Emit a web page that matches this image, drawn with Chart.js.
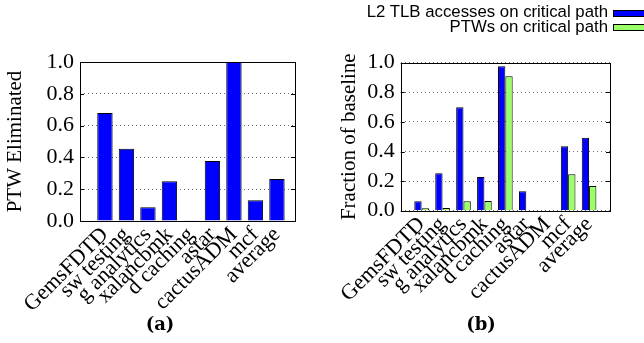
<!DOCTYPE html>
<html>
<head>
<meta charset="utf-8">
<script src="https://cdn.jsdelivr.net/npm/chart.js@4/dist/chart.umd.min.js"></script>
<style>
  body { margin: 0; width: 644px; height: 343px; overflow: hidden; background: #fff; position: relative; }
  canvas { position: absolute; top: 0; }
  .legend-row { position: absolute; right: 36px; font-family: "Liberation Sans", Arial, sans-serif; font-size: 16.8px; line-height: 16.8px; white-space: nowrap; color: #000; }
  .legend-box { position: absolute; left: 613px; width: 34px; height: 5px; border: 1px solid #000; }
  .caption { position: absolute; top: 314px; width: 60px; text-align: center; font-family: "DejaVu Serif", serif; font-weight: bold; font-size: 18px; line-height: 20px; }
</style>
</head>
<body>
<canvas id="chart-a" width="322" height="343" style="left:0"></canvas>
<canvas id="chart-b" width="322" height="343" style="left:322px"></canvas>
<div class="caption" style="left:130px">(a)</div>
<div class="caption" style="left:451px">(b)</div>

<script>
const categories = ["GemsFDTD", "sw testing", "g analytics", "xalancbmk", "d caching", "astar", "cactusADM", "mcf", "average"];

// (a) PTW Eliminated
const ptwEliminated = [0.68, 0.455, 0.087, 0.25, 0.005, 0.378, 1.0, 0.13, 0.264];

// (b) Fraction of baseline
const l2TlbCritical = [0.064, 0.253, 0.699, 0.228, 0.976, 0.131, 0, 0.435, 0.493];
const ptwCritical = [0.016, 0.018, 0.064, 0.066, 0.908, 0, 0, 0.246, 0.167];
const legendLabels = ["L2 TLB accesses on critical path", "PTWs on critical path"];

const yTicks = [0, 0.2, 0.4, 0.6, 0.8, 1.0];

const blue = "#0000ff";
const green = "#99ff66";
const serif = "'Liberation Serif', 'Times New Roman', serif";

// frame around the plot + little inward tics like gnuplot
const framePlugin = {
  id: "frame",
  afterDraw(chart) {
    const { ctx, chartArea: a, scales } = chart;
    ctx.save();
    ctx.strokeStyle = "#000";
    ctx.lineWidth = 1;
    ctx.beginPath();
    scales.y.ticks.forEach(t => {
      const py = Math.round(scales.y.getPixelForValue(t.value)) + 0.5;
      ctx.moveTo(a.left, py);
      ctx.lineTo(a.left + 4, py);
      ctx.moveTo(a.right, py);
      ctx.lineTo(a.right - 4, py);
    });
    ctx.stroke();
    ctx.strokeRect(Math.round(a.left) + 0.5, Math.round(a.top) + 0.5, Math.round(a.right - a.left), Math.round(a.bottom - a.top));
    ctx.restore();
  }
};

function toPoints(values) {
  return values.map((v, i) => ({ x: i, y: v }));
}

function makeOptions(opts) {
  return {
    responsive: false,
    animation: false,
    devicePixelRatio: 1,
    layout: { padding: { left: 0, right: opts.padRight, top: opts.padTop, bottom: 0 } },
    plugins: { legend: { display: false }, tooltip: { enabled: false } },
    scales: {
      x: {
        type: "linear",
        min: opts.xMin,
        max: opts.xMax,
        offset: false,
        grid: { display: false, offset: false },
        border: { display: false },
        afterBuildTicks: scale => {
          scale.ticks = categories.map((c, i) => ({ value: i }));
        },
        afterFit: scale => { scale.height = opts.xHeight; },
        ticks: {
          autoSkip: false,
          minRotation: 45,
          maxRotation: 45,
          padding: -7,
          color: "#000",
          font: { family: serif, size: 22 },
          callback: v => categories[v]
        }
      },
      y: {
        min: 0,
        max: 1,
        afterBuildTicks: scale => {
          scale.ticks = yTicks.map(v => ({ value: v }));
        },
        afterFit: scale => { scale.width = opts.yWidth; },
        grid: {
          color: "#707070",
          lineWidth: 1,
          drawTicks: false
        },
        // in v4 the grid line dash comes from border.dash
        border: { display: false, dash: [1, 3] },
        ticks: {
          padding: 6,
          color: "#000",
          font: { family: serif, size: 22 },
          callback: v => v.toFixed(1)
        },
        title: {
          display: true,
          text: opts.yTitle,
          color: "#000",
          padding: { top: opts.titlePad, bottom: 0 },
          font: { family: serif, size: 21 }
        }
      }
    }
  };
}

const ctxA = document.getElementById("chart-a").getContext("2d");
new Chart(ctxA, {
  type: "bar",
  data: {
    datasets: [
      {
        label: "PTW Eliminated",
        data: toPoints(ptwEliminated),
        backgroundColor: blue,
        borderColor: "#000",
        borderWidth: 1,
        borderSkipped: "bottom",
        categoryPercentage: 0.715,
        barPercentage: 1
      }
    ]
  },
  options: makeOptions({ padRight: 27, padTop: 62, xHeight: 122, yWidth: 80, xMin: -1.16, xMax: 8.84, titlePad: 2.6, yTitle: "PTW Eliminated" }),
  plugins: [framePlugin]
});

const ctxB = document.getElementById("chart-b").getContext("2d");
new Chart(ctxB, {
  type: "bar",
  data: {
    datasets: [
      {
        label: legendLabels[0],
        data: toPoints(l2TlbCritical),
        backgroundColor: blue,
        borderColor: "#000",
        borderWidth: 1,
        borderSkipped: "bottom",
        categoryPercentage: 0.7,
        barPercentage: 1
      },
      {
        label: legendLabels[1],
        data: toPoints(ptwCritical),
        backgroundColor: green,
        borderColor: "#000",
        borderWidth: 1,
        borderSkipped: "bottom",
        categoryPercentage: 0.7,
        barPercentage: 1
      }
    ]
  },
  options: makeOptions({ padRight: 34, padTop: 62.7, xHeight: 132.3, yWidth: 78.7, xMin: -1, xMax: 9, titlePad: 14.4, yTitle: "Fraction of baseline" }),
  plugins: [framePlugin]
});

// legend in the top right, text before the box like gnuplot
const legendColors = [blue, green];
const legendTops = [4, 18.5];
legendLabels.forEach((label, i) => {
  const row = document.createElement("div");
  row.className = "legend-row";
  row.style.top = legendTops[i] + "px";
  row.textContent = label;
  document.body.appendChild(row);
  const box = document.createElement("div");
  box.className = "legend-box";
  box.style.top = (legendTops[i] + 5.5) + "px";
  box.style.background = legendColors[i];
  document.body.appendChild(box);
});
</script>
</body>
</html>
